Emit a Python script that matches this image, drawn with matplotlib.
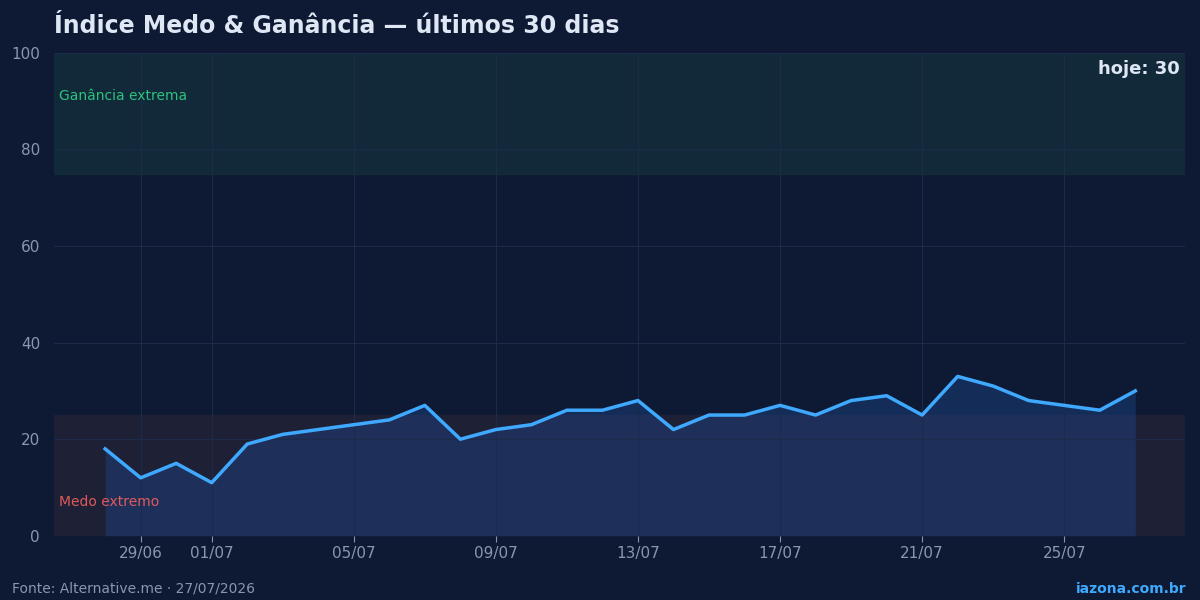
import matplotlib
matplotlib.use("Agg")
import matplotlib.pyplot as plt

dates = ["28/06","29/06","30/06","01/07","02/07","03/07","04/07","05/07","06/07","07/07",
         "08/07","09/07","10/07","11/07","12/07","13/07","14/07","15/07","16/07","17/07",
         "18/07","19/07","20/07","21/07","22/07","23/07","24/07","25/07","26/07","27/07"]
values = [18,12,15,11,19,21,22,23,24,27,20,22,23,26,26,28,22,25,25,27,25,28,29,25,33,31,28,27,26,30]
tick_labels = ["29/06","01/07","05/07","09/07","13/07","17/07","21/07","25/07"]

bg = "#0e1a33"
fig = plt.figure(figsize=(12, 6), dpi=100, facecolor=bg)
ax = fig.add_axes([0.045, 0.107, 0.9425, 0.805], facecolor=bg)
ax.set_axisbelow(False)
x = list(range(len(values)))
ax.set_xlim(-1.44, 30.4)
ax.set_ylim(0, 100)
ax.axhspan(75, 100, color="#12293a", zorder=0)
ax.axhspan(0, 25, color="#1e2036", zorder=0)
ticks = [dates.index(t) for t in tick_labels]
ax.set_xticks(ticks)
ax.set_xticklabels(tick_labels)
ax.set_yticks([0, 20, 40, 60, 80, 100])
ax.grid(True, color="#1d2b4a", linewidth=0.8)
for gl in ax.get_xgridlines() + ax.get_ygridlines():
    gl.set_zorder(1)
ax.fill_between(x, values, 0, color="#1f4fa0", alpha=0.35, zorder=2, linewidth=0)
ax.plot(x, values, color="#3fa9ff", linewidth=2.5, zorder=3)
for s in ax.spines.values():
    s.set_visible(False)
ax.tick_params(colors="#8a96ad", labelsize=11, length=4)
ax.tick_params(axis="y", length=0, pad=10)
ax.text(-1.3, 91, "Ganância extrema", color="#2ec27e", fontsize=10, va="center")
ax.text(-1.3, 7, "Medo extremo", color="#e05a5a", fontsize=10, va="center")
ax.text(0.995, 0.985, "hoje: 30", transform=ax.transAxes, ha="right", va="top",
        color="#dfe7f5", fontsize=13, fontweight="bold")
fig.text(0.045, 0.957, "Índice Medo & Ganância — últimos 30 dias", color="#dfe7f5",
         fontsize=17, fontweight="bold", va="center")
fig.text(0.01, 0.012, "Fonte: Alternative.me · 27/07/2026", color="#8a96ad", fontsize=10)
fig.text(0.989, 0.012, "iazona.com.br", color="#3fa9ff", fontsize=10, fontweight="bold", ha="right")
fig.savefig("out.png", facecolor=bg)
